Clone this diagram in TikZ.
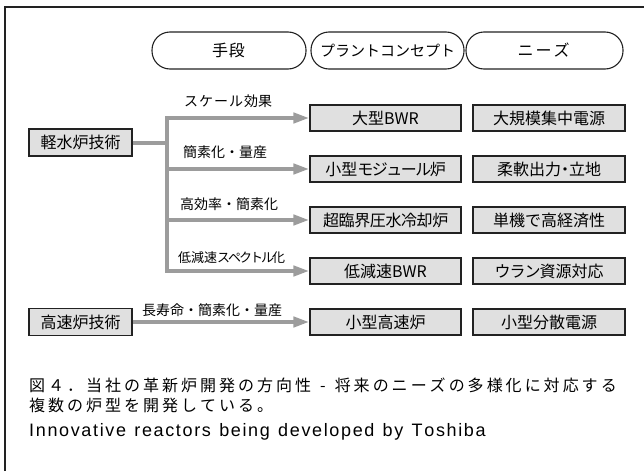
\documentclass[tikz,border=0pt]{standalone}
\usepackage{fontspec}
\setmainfont{Noto Sans CJK JP}
\newfontfamily\enfont{Liberation Sans}
\usetikzlibrary{arrows.meta}
\definecolor{boxfill}{HTML}{E0E0E0}
\definecolor{arrgray}{HTML}{9C9C9C}
\definecolor{lineblk}{HTML}{222222}
\newdimen\lspamt
\makeatletter
\def\lsp#1#2{\lspamt=#1\relax\lsp@#2\@nil}
\def\lsp@#1{\ifx\@nil#1\else#1\kern\lspamt\expandafter\lsp@\fi}
\makeatother
\begin{document}
\begin{tikzpicture}[x=1pt,y=-1pt,
  pill/.style={draw=lineblk, fill=white, line width=1.1pt, rounded corners=18pt,
    minimum height=37pt, inner sep=0pt, font=\fontsize{16}{18}\selectfont},
  gbox/.style={draw=lineblk, fill=boxfill, line width=1.1pt, minimum height=26pt,
    inner sep=0pt, font=\fontsize{16}{18}\selectfont},
  plantbox/.style={gbox, minimum width=151pt},
  needbox/.style={gbox, minimum width=152pt},
  techbox/.style={gbox, minimum width=103pt, minimum height=27pt},
  lbl/.style={anchor=west, inner sep=0pt, font=\fontsize{14}{16}\selectfont},
  trunk/.style={draw=arrgray, line width=4pt, line cap=rect},
  arr/.style={draw=arrgray, line width=4pt, -{Triangle[length=16pt,width=10pt]}},
  captxt/.style={anchor=west, inner sep=0pt}
]
\useasboundingbox (0,0) rectangle (644,471);
% frame
\draw[lineblk, line width=1.3pt] (5,471) -- (5,7) -- (644,7);

% header pills
\node[pill, minimum width=154pt] (h1) at (229,50.5) {\lsp{1pt}{手段}};
\node[pill, minimum width=153pt, font=\fontsize{15}{17}\selectfont] (h2) at (387.5,50.5) {プラントコンセプト};
\node[pill, minimum width=157pt] (h3) at (544.5,50.5) {\lsp{2pt}{ニーズ}};

% plant concept boxes
\node[plantbox] (p1) at (385.5,118) {大型BWR};
\node[plantbox] (p2) at (385.5,169) {小型\lsp{-1.5pt}{モジュール}炉};
\node[plantbox] (p3) at (385.5,220) {\lsp{-0.4pt}{超臨界圧水冷却炉}};
\node[plantbox] (p4) at (385.5,271) {低減速BWR};
\node[plantbox] (p5) at (385.5,322) {小型高速炉};

% needs boxes
\node[needbox] (n1) at (549,118) {大規模集中電源};
\node[needbox] (n2) at (549,169) {柔軟出力\kern-4pt・\kern-4pt立地};
\node[needbox] (n3) at (549,220) {単機で高経済性};
\node[needbox] (n4) at (549,271) {\lsp{-1pt}{ウラン}資源対応};
\node[needbox] (n5) at (549,322) {小型分散電源};

% technology boxes
\node[techbox] (lw) at (80.5,142.5) {軽水炉技術};
\node[techbox] (fr) at (80.5,322) {高速炉技術};

% trunk and arrows
\coordinate (j) at (167,142.5);
\coordinate (ttop) at (167,118);
\coordinate (tbot) at (167,271);
\coordinate (t2) at (167,169);
\coordinate (t3) at (167,220);
\draw[trunk] (ttop) -- (tbot);
\draw[draw=arrgray, line width=4pt] (lw.east) -- (j);
\draw[arr] (ttop) -- (p1.west);
\draw[arr] (t2) -- (p2.west);
\draw[arr] (t3) -- (p3.west);
\draw[arr] (tbot) -- (p4.west);
\draw[arr] (fr.east) -- (p5.west);

% labels
\node[lbl] (l1) at (184,101) {\lsp{1pt}{スケール}効果};
\node[lbl] (l2) at (183,152) {簡素化・量産};
\node[lbl] (l3) at (180,204) {高効率・簡素化};
\node[lbl, font=\fontsize{13}{15}\selectfont] (l4) at (178,258) {低減速\lsp{-2pt}{スペクトル}化};
\node[lbl] (l5) at (142,310) {長寿命・簡素化・量産};

% caption
\node[captxt, font=\fontsize{16}{18}\selectfont] (c1) at (29,385) {\lsp{3pt}{図４．当社の革新炉開発の方向性}\hspace{6pt}-\hspace{9pt}\lsp{3pt}{将来のニーズの多様化に対応する}};
\node[captxt, font=\fontsize{16}{18}\selectfont] (c2) at (29,405) {\lsp{3pt}{複数の炉型を開発している。}};
\node[captxt, anchor=base west, font=\enfont\fontsize{18}{20}\selectfont] (c3) at (29,436) {\lsp{1.65pt}{Innovative\ reactors\ being\ developed\ by\ Toshiba}};
\end{tikzpicture}
\end{document}
